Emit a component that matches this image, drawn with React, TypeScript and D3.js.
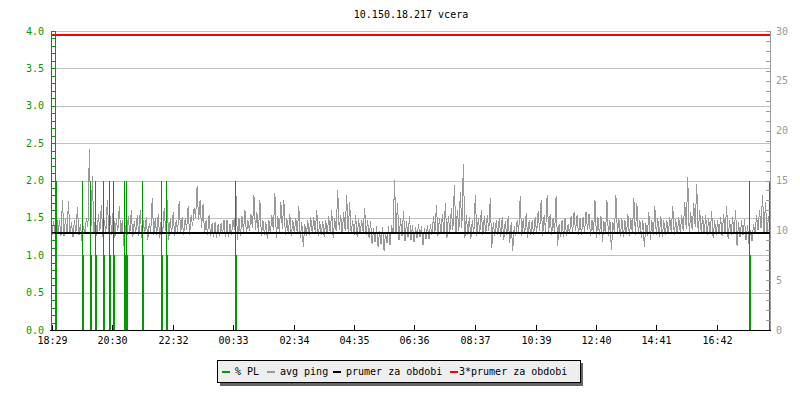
import React from "react";
import * as d3 from "d3";

// ---------- data ----------
const title = "10.150.18.217 vcera";
const timeTickLabels = ["18:29", "20:30", "22:32", "00:33", "02:34", "04:35", "06:36", "08:37", "10:39", "12:40", "14:41", "16:42"];
const leftTicks = ["0.0", "0.5", "1.0", "1.5", "2.0", "2.5", "3.0", "3.5", "4.0"];
const rightTicks = ["0", "5", "10", "15", "20", "25", "30"];
const legendLabels = ["% PL", "avg ping", "prumer za obdobi", "3*prumer za obdobi"];
const legendColors = ["#009900", "#999999", "#000000", "#ff0000"];

const binMinutes = 6;
// avg ping (ms): per 6-minute bin, the highest and lowest average, starting 18:29
const pingHi = [
  10.9, 11.8, 11.0, 13.0, 11.2, 12.9, 10.8, 11.0, 12.3, 10.6, 10.4, 11.2, 18.2, 15.4, 11.3, 11.6, 12.5, 11.0, 13.0, 11.4,
  12.3, 11.1, 12.4, 11.0, 10.5, 11.4, 12.0, 10.9, 11.5, 12.0, 11.0, 11.3, 10.7, 13.2, 11.2, 11.6, 11.0, 12.2, 13.0, 11.1,
  11.8, 11.0, 12.9, 11.3, 11.2, 12.4, 11.5, 12.2, 14.4, 13.0, 12.6, 11.0, 11.5, 10.7, 10.8, 10.6, 10.7, 11.0, 11.0, 10.6,
  11.0, 13.5, 11.2, 11.4, 12.0, 11.0, 11.6, 13.5, 11.8, 13.0, 11.0, 10.8, 11.0, 11.5, 13.7, 11.4, 12.8, 13.0, 11.2, 11.6,
  11.0, 11.2, 12.4, 10.8, 10.6, 11.0, 11.3, 11.3, 12.0, 10.9, 10.9, 11.0, 11.4, 12.0, 11.2, 14.0, 11.5, 11.8, 13.5, 12.8,
  11.0, 11.5, 11.1, 11.0, 12.2, 11.0, 10.9, 10.2, 10.4, 9.9, 10.3, 9.8, 10.4, 10.5, 15.0, 12.7, 11.2, 11.9, 10.9, 11.4,
  10.5, 10.3, 10.6, 10.4, 10.2, 10.5, 10.6, 11.4, 12.5, 11.2, 11.6, 12.7, 11.4, 12.2, 14.5, 12.0, 13.8, 16.7, 11.5, 11.3,
  11.0, 13.5, 11.2, 12.0, 11.4, 11.5, 13.2, 10.8, 11.0, 11.2, 11.3, 10.9, 11.4, 10.8, 10.4, 11.0, 13.4, 11.1, 11.7, 11.0,
  11.0, 11.3, 11.9, 13.0, 11.5, 13.5, 11.6, 11.2, 13.4, 10.6, 11.0, 11.2, 10.6, 11.4, 11.8, 11.5, 11.2, 11.3, 11.8, 11.6,
  11.0, 13.0, 11.3, 11.4, 10.9, 13.0, 11.0, 10.8, 13.5, 11.2, 11.2, 11.0, 11.6, 11.2, 13.2, 12.7, 11.0, 11.0, 10.7, 11.8,
  11.0, 12.4, 11.2, 11.4, 11.0, 11.0, 11.3, 12.4, 11.1, 11.3, 11.5, 12.8, 15.3, 11.8, 12.7, 14.6, 12.0, 11.4, 11.5, 11.2,
  11.9, 11.0, 11.0, 11.3, 11.6, 12.4, 11.0, 11.3, 12.0, 10.8, 11.0, 11.1, 10.5, 10.0, 10.6, 11.5, 12.0, 13.5, 12.8, 11.4,
];
const pingLo = [
  9.5, 9.7, 9.6, 9.4, 9.4, 9.6, 9.6, 9.3, 9.8, 9.5, 8.9, 9.7, 10.3, 10.0, 9.6, 9.4, 9.9, 9.3, 9.8, 9.8,
  9.5, 9.2, 9.9, 9.6, 8.4, 9.2, 9.6, 9.3, 9.7, 9.4, 9.2, 9.6, 9.0, 9.8, 9.5, 9.5, 9.2, 9.7, 9.9, 9.0,
  9.6, 9.4, 9.8, 9.6, 9.5, 10.0, 9.5, 10.4, 11.2, 11.0, 10.2, 9.6, 9.5, 9.4, 9.3, 9.2, 9.4, 9.6, 9.3, 9.3,
  9.5, 10.0, 9.0, 9.4, 9.8, 9.6, 9.9, 10.2, 10.0, 9.7, 9.4, 9.5, 9.1, 9.6, 10.0, 9.2, 9.8, 10.1, 9.5, 9.6,
  9.4, 9.7, 9.6, 9.2, 8.3, 9.4, 9.5, 9.6, 9.8, 9.4, 9.5, 9.3, 9.6, 9.7, 9.2, 9.9, 10.0, 9.6, 9.9, 9.7,
  9.6, 9.5, 9.3, 9.6, 9.8, 9.5, 9.2, 8.6, 8.8, 8.3, 8.6, 7.9, 8.7, 8.5, 9.6, 9.8, 9.0, 9.4, 8.9, 9.3,
  9.0, 8.8, 9.2, 9.3, 8.5, 9.1, 9.1, 9.5, 9.8, 9.4, 9.7, 9.6, 9.2, 9.8, 10.0, 9.6, 9.9, 10.2, 9.2, 9.5,
  9.1, 9.6, 9.4, 9.7, 9.5, 9.6, 9.9, 8.2, 9.4, 9.5, 9.3, 9.0, 9.5, 8.7, 7.9, 9.4, 9.8, 9.4, 9.6, 9.2,
  9.5, 9.5, 9.7, 9.9, 9.4, 9.8, 9.8, 9.5, 9.7, 8.4, 9.3, 9.3, 9.4, 9.6, 9.7, 9.9, 9.5, 9.5, 9.8, 10.0,
  9.4, 9.6, 9.2, 9.5, 8.8, 9.6, 9.4, 8.0, 9.7, 9.6, 9.4, 9.3, 9.5, 9.4, 9.7, 9.5, 9.6, 9.2, 8.3, 9.4,
  9.0, 9.5, 9.5, 9.3, 9.3, 9.5, 9.6, 9.8, 9.5, 9.6, 9.8, 9.9, 10.1, 9.6, 10.0, 10.3, 9.7, 9.8, 9.6, 9.5,
  9.7, 9.2, 9.5, 9.6, 9.4, 9.7, 9.1, 9.5, 9.6, 8.4, 9.3, 9.5, 9.0, 8.6, 8.9, 9.6, 10.0, 10.2, 9.8, 9.6,
];
// packet loss events: minutes after 18:29, max % and average %
const plMinutes = [6, 60, 76, 87, 103, 115, 123, 144, 149, 181, 219, 229, 367, 1397, 1438];
const plMax = [4.5, 2, 2, 2, 2, 2, 2, 2, 2, 2, 2, 2, 2, 2, 2];
const plAvg = [2, 1, 1, 1, 1, 1, 1, 1, 1, 1, 1, 1, 1, 1, 1];
const meanPing = 9.78;
const tripleMean = 29.55;

// ---------- layout ----------
const W = 800, H = 400;
const X0 = 52, X1 = 770, Y0 = 330, Y1 = 31;
const FONT = "'DejaVu Sans Mono', monospace";

const start = new Date(2020, 0, 1, 18, 29);
const end = new Date(start.getTime() + 1440 * 60000);
const addMin = (m: number) => new Date(start.getTime() + m * 60000);

function parseTick(s: string) {
  const [h, m] = s.split(":").map(Number);
  const d = new Date(2020, 0, 1, h, m);
  if (d < start) d.setDate(d.getDate() + 1);
  return d;
}

type P = { t: Date; v: number };

export default function App() {
  const x = d3.scaleTime().domain([start, end]).range([X0, X1]);
  const yL = d3.scaleLinear().domain([0, 4]).range([Y0, Y1]);
  const yR = d3.scaleLinear().domain([0, 30]).range([Y0, Y1]);

  const pts: P[] = [];
  pingLo.forEach((lo, i) => {
    pts.push({ t: addMin(i * binMinutes), v: lo });
    pts.push({ t: addMin(i * binMinutes + binMinutes / 2), v: pingHi[i] });
  });
  const line = d3
    .line<P>()
    .x((p) => Math.min(x(p.t), X1))
    .y((p) => yR(Math.min(p.v, 30)));

  const minorLeft = d3.range(0, 41).map((i) => i / 10);
  const minorRight = d3.range(0, 31);
  const grid = d3.range(1, 9).map((i) => i / 2);

  const legendX = [222, 267, 333, 450];
  const redY = Math.round(yR(tripleMean));

  return (
    <svg width={W} height={H} style={{ position: "absolute", left: 0, top: 0, background: "#fff" }} fontFamily={FONT}>
      <rect x={0} y={0} width={W} height={H} fill="#fff" />
      <text x={411} y={18} textAnchor="middle" fontSize={10} fill="#000">{title}</text>

      {/* grid */}
      {grid.map((g) => (
        <line key={g} x1={X0} x2={X1} y1={Math.round(yL(g)) + 0.5} y2={Math.round(yL(g)) + 0.5} stroke="#c0c0c0" shapeRendering="crispEdges" />
      ))}

      {/* avg ping */}
      <path d={line(pts) || ""} fill="none" stroke="#999999" strokeWidth={1} shapeRendering="crispEdges" />

      {/* packet loss */}
      {plMinutes.map((m, i) => {
        const px = Math.round(x(addMin(m)));
        return (
          <g key={i}>
            <line x1={px + 0.5} x2={px + 0.5} y1={Y0} y2={yL(Math.min(plMax[i], 4))} stroke="#009900" strokeWidth={1} shapeRendering="crispEdges" />
            <rect x={px} y={yL(plAvg[i])} width={2} height={Y0 - yL(plAvg[i])} fill="#009900" shapeRendering="crispEdges" />
          </g>
        );
      })}

      {/* mean lines */}
      <line x1={X0} x2={X1} y1={yR(meanPing)} y2={yR(meanPing)} stroke="#000" strokeWidth={2} shapeRendering="crispEdges" />
      <rect x={X0} y={redY - 1} width={X1 - X0} height={2} fill="#ff0000" />

      {/* left axis */}
      <line x1={51.5} x2={51.5} y1={Y1} y2={Y0} stroke="#009900" shapeRendering="crispEdges" />
      {minorLeft.map((v) => (
        <line key={v} x1={51} x2={55} y1={Math.round(yL(v)) + 0.5} y2={Math.round(yL(v)) + 0.5} stroke="#009900" shapeRendering="crispEdges" />
      ))}
      {leftTicks.map((t) => (
        <text key={t} x={44} y={yL(+t)} dy="0.35em" textAnchor="end" fontSize={10} fill="#009900">{t}</text>
      ))}

      {/* right axis */}
      <line x1={X1 + 0.5} x2={X1 + 0.5} y1={Y1} y2={Y0} stroke="#999999" shapeRendering="crispEdges" />
      {minorRight.map((v) => (
        <line key={v} x1={766} x2={771} y1={Math.round(yR(v)) + 0.5} y2={Math.round(yR(v)) + 0.5} stroke="#999999" shapeRendering="crispEdges" />
      ))}
      {rightTicks.map((t) => (
        <text key={t} x={776} y={yR(+t)} dy="0.35em" textAnchor="start" fontSize={10} fill="#999999">{t}</text>
      ))}

      {/* bottom axis */}
      <line x1={50} x2={X1 + 1} y1={Y0 + 0.5} y2={Y0 + 0.5} stroke="#000" shapeRendering="crispEdges" />
      {timeTickLabels.map((t) => {
        const px = Math.round(x(parseTick(t))) + 0.5;
        return (
          <g key={t}>
            <line x1={px} x2={px} y1={Y0} y2={Y0 - 5} stroke="#000" shapeRendering="crispEdges" />
            <text x={px} y={344} textAnchor="middle" fontSize={10} fill="#000">{t}</text>
          </g>
        );
      })}

      {/* legend */}
      <rect x={220} y={363} width={363} height={23} fill="#666" />
      <rect x={217.5} y={360.5} width={363} height={22} fill="#eeeeee" stroke="#000" shapeRendering="crispEdges" />
      {legendLabels.map((l, i) => (
        <g key={l}>
          <rect x={legendX[i]} y={371} width={8} height={2} fill={legendColors[i]} />
          <text x={legendX[i] + (i === 3 ? 9 : 13)} y={375} fontSize={10} fill="#000">{l}</text>
        </g>
      ))}
    </svg>
  );
}
